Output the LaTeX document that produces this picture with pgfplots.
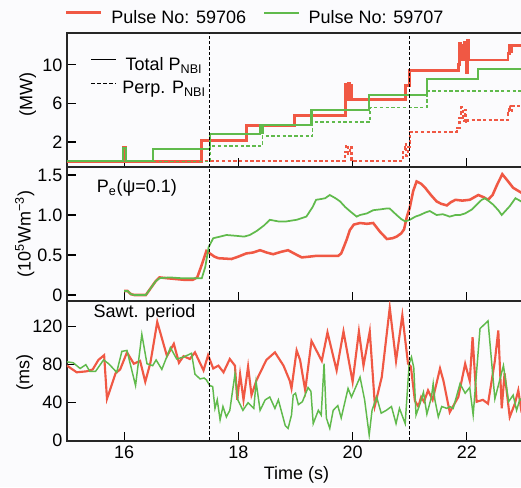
\documentclass[border=0pt]{standalone}
\usepackage{pgfplots}
\pgfplotsset{compat=1.18}
\usepackage{fontspec}
\setmainfont{Liberation Sans}
\definecolor{cred}{RGB}{240,88,68}
\definecolor{cgreen}{RGB}{96,186,76}
\definecolor{bgc}{RGB}{251,251,253}
\newcommand{\fs}{\fontsize{13.5}{16}\selectfont}
\pgfplotsset{panel/.style={scale only axis, width=342.75pt, xmin=15, xmax=23, anchor=north west,
  tick align=inside, xtick pos=bottom, ytick pos=left, major tick length=7pt, xtick={16,18,20,22},
  tick style={black, line width=0.9pt}, axis line style={black!85, line width=1pt},
  tick label style={font=\fs}, label style={font=\fs}, /pgf/number format/assume math mode=true},
  vline/.style={black, line width=1pt, dash pattern=on 2.5pt off 1.5pt, forget plot}}
\begin{document}
\begin{tikzpicture}
\fill[bgc] (0,0) rectangle (390.75pt,-365.25pt);
% ---------------- Panel 1
\begin{axis}[panel, at={(50.25pt,-24.75pt)}, height=100.5pt, ymin=-0.585, ymax=13.3, ytick={2,6,10},
  xticklabel=\empty, ylabel={(MW)}, ylabel style={at={(axis description cs:-0.086,0.54)}, anchor=center},
  legend style={at={(axis description cs:0.0507,0.675)}, anchor=west, draw=none, fill=none, inner sep=0pt,
    font=\fs, row sep=7pt, nodes={inner sep=0pt},
    /tikz/every odd column/.append style={column sep=4pt}},
  legend image code/.code={\draw[#1] (0pt,4pt) -- (18.75pt,4pt);}]
\addplot[cred, line width=2.2pt, const plot, forget plot] coordinates {
(15,0) (15.98,1.4) (16.03,0) (17.35,2.2) (18.15,3.76) (18.99,4.72) (19.87,6.45)
(19.88,8.0) (19.90,6.45) (19.92,8.1) (19.94,6.45) (19.96,7.9) (19.98,6.45)
(20.93,7.9) (21.0,9.4) (21.85,10.0) (21.87,12.2) (21.89,10.6) (21.91,12.0) (21.93,10.6)
(21.95,12.3) (21.97,10.6) (21.99,9.2) (22.01,12.5) (22.03,10.5) (22.72,11.2) (22.74,12.0)
(22.76,11.4) (22.78,12.0) (23,12.0)};
\addplot[cred, line width=1.6pt, const plot, forget plot, dash pattern=on 2.5pt off 1.8pt] coordinates {
(15,0) (19.86,1.0) (19.89,1.7) (19.92,0.8) (19.95,1.5) (19.98,0)
(20.88,1.0) (20.91,1.8) (20.94,0.6) (20.97,1.5) (21.0,3.07) (21.83,3.5) (21.87,4.5)
(21.9,5.6) (21.93,4.2) (21.96,5.3) (21.99,4.0) (22.02,4.3) (22.72,5.0) (22.74,5.7)
(22.76,5.2) (22.78,5.7) (23,5.7)};
\addplot[cgreen, line width=1.6pt, const plot, forget plot] coordinates {
(15,0) (15.98,1.4) (16.03,0) (16.5,1.25) (17.5,2.83) (18.38,3.76) (18.40,2.9) (18.43,3.76)
(19.28,5.3) (20.29,6.86) (21.3,8.5) (22.2,9.55) (23,9.55)};
\addplot[cgreen, line width=1.2pt, const plot, forget plot, dash pattern=on 2.5pt off 1.8pt] coordinates {
(15,0) (17.5,1.6) (18.42,2.6) (19.3,4.05) (20.3,5.6) (21.3,7.3) (23,7.3)};
\addplot[vline] coordinates {(17.5,-5) (17.5,20)};
\addplot[vline] coordinates {(21,-5) (21,20)};
\addlegendimage{black, line width=1.2pt}
\addlegendentry{Total P\textsubscript{NBI}}
\addlegendimage{black, line width=1.2pt, dash pattern=on 2.5pt off 2pt}
\addlegendentry{Perp. P\textsubscript{NBI}}
\end{axis}
% top legend
\begin{axis}[scale only axis, width=342.75pt, height=100.5pt, at={(50.25pt,-24.75pt)}, anchor=north west,
  hide axis, xmin=0, xmax=1, ymin=0, ymax=1, legend columns=2,
  legend style={at={(axis description cs:-0.0044,1.112)}, anchor=west, draw=none, fill=none, inner sep=0pt,
    font=\fs, nodes={inner sep=0pt},
    /tikz/every odd column/.append style={column sep=6.75pt},
    /tikz/every even column/.append style={column sep=12.75pt}},
  legend image code/.code={\draw[#1] (0pt,4pt) -- (26pt,4pt);}]
\addplot[draw=none, forget plot] coordinates {(0.5,0.5)};
\addlegendimage{cred, line width=1.8pt}
\addlegendentry{Pulse No: 59706}
\addlegendimage{cgreen, line width=1.4pt}
\addlegendentry{Pulse No: 59707}
\end{axis}
% ---------------- Panel 2
\begin{axis}[panel, at={(50.25pt,-125.25pt)}, height=100.5pt, ymin=-0.075, ymax=1.6,
  ytick={0,0.5,1,1.5}, yticklabels={0,0.5,1.0,1.5}, xticklabel=\empty,
  ylabel={(10\textsuperscript{5}Wm\textsuperscript{−3})}, ylabel style={at={(axis description cs:-0.0925,0.5)}, anchor=center}]
\addplot[cred, line width=1.9pt] coordinates {
(16.00,0.05) (16.06,0.05) (16.12,0.01) (16.18,0.00) (16.38,0.00) (16.45,0.07) (16.55,0.17)
(16.62,0.22) (16.75,0.21) (16.90,0.20) (17.05,0.19) (17.20,0.19) (17.28,0.22) (17.36,0.38)
(17.44,0.55) (17.50,0.52) (17.58,0.48) (17.65,0.46) (17.88,0.45) (18.00,0.48) (18.14,0.52)
(18.25,0.53) (18.38,0.56) (18.50,0.53) (18.61,0.51) (18.75,0.54) (18.87,0.56) (19.00,0.51)
(19.11,0.47) (19.25,0.48) (19.37,0.49) (19.55,0.49) (19.75,0.49) (19.80,0.52) (19.84,0.59)
(19.90,0.70) (19.95,0.81) (20.02,0.88) (20.13,0.90) (20.25,0.89) (20.36,0.90) (20.48,0.79)
(20.60,0.70) (20.70,0.71) (20.77,0.73) (20.85,0.77) (20.90,0.82) (20.95,0.98) (21.00,1.09)
(21.06,1.30) (21.12,1.42) (21.20,1.39) (21.27,1.34) (21.37,1.25) (21.47,1.17) (21.55,1.14)
(21.65,1.12) (21.72,1.16) (21.80,1.19) (21.92,1.18) (22.05,1.19) (22.20,1.25) (22.30,1.22)
(22.37,1.19) (22.45,1.25) (22.53,1.38) (22.62,1.51) (22.70,1.44) (22.81,1.34) (22.95,1.28) (23.00,1.30)};
\addplot[cgreen, line width=1.3pt] coordinates {
(16.00,0.05) (16.06,0.05) (16.12,0.01) (16.18,0.00) (16.38,0.00) (16.45,0.07) (16.55,0.17)
(16.62,0.21) (16.80,0.22) (17.00,0.21) (17.20,0.21) (17.36,0.21) (17.42,0.35) (17.48,0.60)
(17.56,0.71) (17.68,0.73) (17.79,0.75) (17.96,0.74) (18.10,0.73) (18.20,0.75) (18.32,0.80)
(18.45,0.87) (18.55,0.94) (18.70,0.92) (18.84,0.92) (19.02,0.94) (19.19,0.98) (19.30,1.10)
(19.36,1.19) (19.45,1.20) (19.52,1.21) (19.60,1.25) (19.70,1.21) (19.78,1.17) (19.87,1.10)
(19.95,1.05) (20.07,0.98) (20.13,1.00) (20.25,1.02) (20.36,1.06) (20.48,1.07) (20.58,1.08)
(20.65,1.08) (20.77,1.00) (20.85,0.95) (20.92,0.92) (21.00,0.94) (21.10,0.98) (21.18,1.00)
(21.27,1.03) (21.35,1.05) (21.47,1.00) (21.58,1.01) (21.70,0.98) (21.80,1.00) (21.88,1.00)
(21.97,1.02) (22.09,1.07) (22.20,1.15) (22.26,1.19) (22.32,1.21) (22.46,1.13) (22.55,1.06)
(22.61,1.00) (22.75,1.11) (22.85,1.21) (22.95,1.17) (23.00,1.15)};
\addplot[vline] coordinates {(17.5,-5) (17.5,20)};
\addplot[vline] coordinates {(21,-5) (21,20)};
\node[anchor=west, font=\fs] at (axis description cs:0.055,0.843) {P\textsubscript{e}(ψ=0.1)};
\end{axis}
% ---------------- Panel 3
\begin{axis}[panel, at={(50.25pt,-225.75pt)}, height=105pt, ymin=-0.3, ymax=147,
  ytick={0,40,80,120}, xlabel={Time (s)}, xlabel style={at={(axis description cs:0.502,-0.243)}, anchor=center},
  ylabel={(ms)}, ylabel style={at={(axis description cs:-0.0925,0.49)}, anchor=center}]
\addplot[cred, line width=1.6pt] coordinates {
(15.00,79) (15.17,72) (15.34,73) (15.45,75) (15.55,85) (15.65,90) (15.70,44) (15.85,71)
(15.93,75) (16.05,93) (16.17,81) (16.28,84) (16.37,62) (16.46,82) (16.58,125) (16.75,89)
(16.87,102) (16.96,82) (17.04,89) (17.15,86) (17.24,93) (17.39,74) (17.47,90) (17.56,76)
(17.65,79) (17.74,72) (17.85,86) (17.94,79) (17.98,43) (18.03,70) (18.09,43) (18.17,78)
(18.23,48) (18.32,64) (18.49,85) (18.64,93) (18.79,79) (18.90,63) (18.93,55) (19.02,95)
(19.08,85) (19.17,53) (19.28,105) (19.46,84) (19.56,114) (19.72,74) (19.84,115) (20.00,62)
(20.11,115) (20.19,79) (20.30,115) (20.39,37) (20.51,67) (20.65,140) (20.76,84) (20.87,132)
(20.97,81) (21.02,78) (21.09,42) (21.15,36) (21.20,46) (21.25,41) (21.32,53) (21.40,43)
(21.53,76) (21.59,63) (21.70,30) (21.85,46) (21.97,81) (22.05,63) (22.10,109) (22.17,41)
(22.28,43) (22.37,39) (22.49,84) (22.55,116) (22.61,34) (22.66,71) (22.75,25) (22.84,39)
(22.90,53) (22.95,33) (23.00,40)};
\addplot[cgreen, line width=1.1pt] coordinates {
(15.00,83) (15.11,82) (15.23,76) (15.33,80) (15.40,73) (15.50,73) (15.64,85) (15.73,81)
(15.87,72) (15.96,94) (16.05,95) (16.20,58) (16.31,112) (16.40,81) (16.50,79) (16.56,85)
(16.66,75) (16.81,98) (16.92,86) (17.04,88) (17.18,92) (17.24,70) (17.33,65) (17.40,66)
(17.44,64) (17.50,58) (17.55,57) (17.59,34) (17.63,43) (17.68,22) (17.73,36) (17.79,25)
(17.85,32) (17.94,70) (17.99,43) (18.08,32) (18.17,40) (18.27,34) (18.31,62) (18.38,32)
(18.47,43) (18.55,46) (18.64,34) (18.70,43) (18.82,16) (18.87,13) (18.93,27) (18.96,48)
(19.00,50) (19.05,38) (19.12,41) (19.22,56) (19.27,52) (19.31,18) (19.40,32) (19.45,27)
(19.50,81) (19.54,24) (19.60,13) (19.66,32) (19.74,37) (19.80,24) (19.92,55) (19.98,46)
(20.13,67) (20.21,43) (20.29,6) (20.34,32) (20.42,46) (20.50,29) (20.59,32) (20.68,36)
(20.76,18) (20.82,34) (20.92,18) (20.99,81) (21.03,88) (21.07,77) (21.11,27) (21.18,39)
(21.24,51) (21.30,28) (21.38,46) (21.41,60) (21.44,43) (21.50,25) (21.56,36) (21.65,34)
(21.70,36) (21.76,34) (21.88,60) (21.97,50) (22.05,56) (22.11,27) (22.23,118) (22.37,126)
(22.49,44) (22.64,79) (22.73,41) (22.81,48) (22.87,32) (22.93,44) (23.00,40)};
\addplot[vline] coordinates {(17.5,-5) (17.5,200)};
\addplot[vline] coordinates {(21,-5) (21,200)};
\node[anchor=west, font=\fs] at (axis description cs:0.048,0.916) {Sawt. period};
\end{axis}
\pgfresetboundingbox
\path[use as bounding box] (0,0) rectangle (390.75pt,-365.25pt);
\end{tikzpicture}
\end{document}
